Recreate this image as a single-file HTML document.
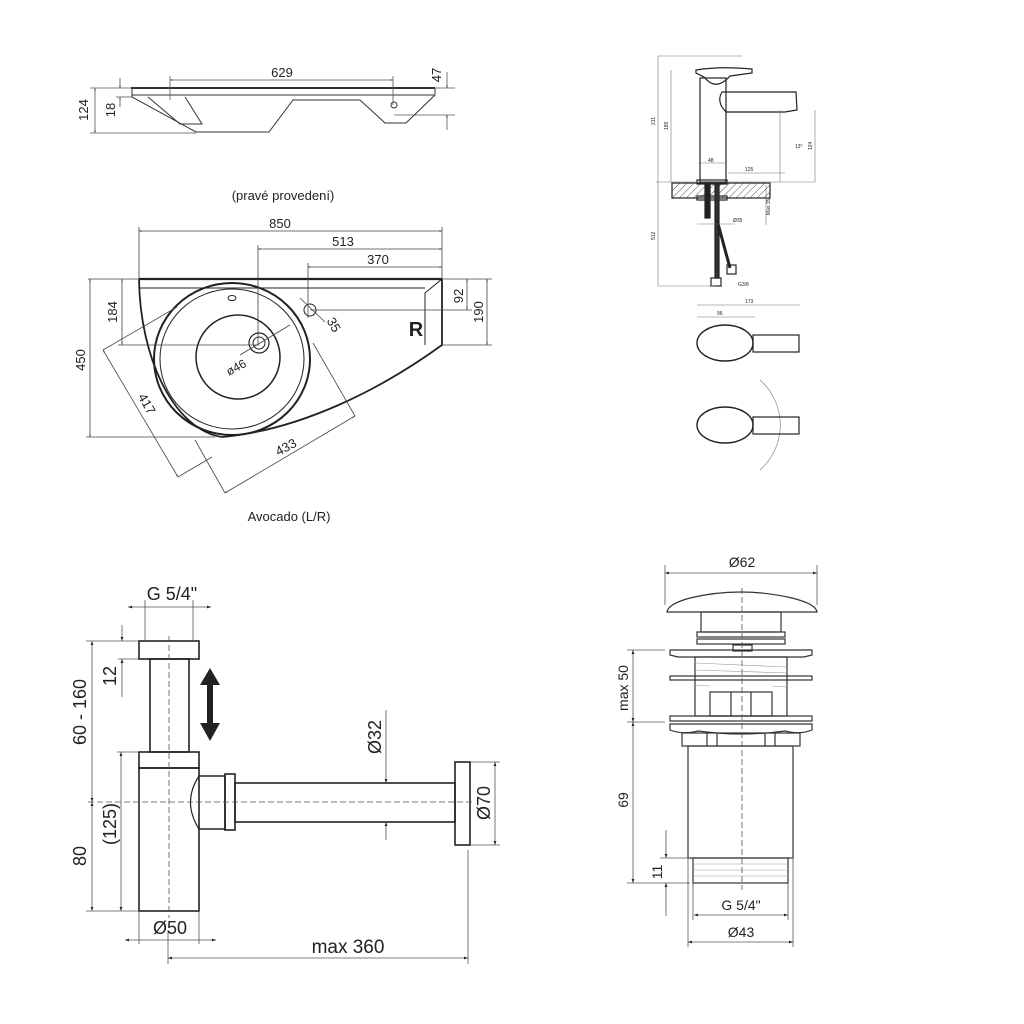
<!DOCTYPE html>
<html><head><meta charset="utf-8"><style>
html,body{margin:0;padding:0;background:#fff;}
svg{display:block;}
text{font-family:"Liberation Sans",sans-serif;fill:#222;}
</style></head><body>
<svg width="1024" height="1024" viewBox="0 0 1024 1024" xmlns="http://www.w3.org/2000/svg">
<defs>
<marker id="a" viewBox="0 0 10 10" refX="10" refY="5" markerWidth="7" markerHeight="5" orient="auto-start-reverse"><path d="M0,1.5 L10,5 L0,8.5z" fill="#222"/></marker>
<marker id="s" viewBox="0 0 10 10" refX="10" refY="5" markerWidth="4" markerHeight="3" orient="auto-start-reverse"><path d="M0,1.5 L10,5 L0,8.5z" fill="#444"/></marker>
<pattern id="h" width="5" height="5" patternUnits="userSpaceOnUse" patternTransform="rotate(45)"><line x1="0" y1="0" x2="0" y2="5" stroke="#555" stroke-width="1"/></pattern>
</defs>

<!-- ===== Top side profile ===== -->
<g fill="none" stroke="#333" stroke-width="1">
<line x1="131" y1="88" x2="435" y2="88" stroke-width="2"/>
<line x1="132" y1="95" x2="434" y2="95"/>
<path d="M132,88 L132,97 L196,132 L269,132 L293,100 L360,100 L385,123 L406,123 L435,95 L435,88"/>
<path d="M148,97 L180,124 L202,124 L185,97"/>
<circle cx="394" cy="105" r="3"/>
<g stroke="#555" stroke-width="0.8">
<line x1="170" y1="80" x2="393" y2="80" marker-start="url(#s)" marker-end="url(#s)"/>
<line x1="170" y1="76" x2="170" y2="100"/><line x1="393" y1="76" x2="393" y2="105"/>
<line x1="95" y1="88" x2="95" y2="133" marker-start="url(#s)" marker-end="url(#s)"/>
<line x1="90" y1="88" x2="131" y2="88"/><line x1="90" y1="133" x2="196" y2="133"/>
<line x1="120" y1="78" x2="120" y2="88" marker-end="url(#s)"/>
<line x1="120" y1="107" x2="120" y2="97" marker-end="url(#s)"/>
<line x1="116" y1="97" x2="132" y2="97"/>
<line x1="447" y1="72" x2="447" y2="88" marker-end="url(#s)"/>
<line x1="447" y1="130" x2="447" y2="115" marker-end="url(#s)"/>
<line x1="435" y1="88" x2="455" y2="88"/><line x1="394" y1="115" x2="455" y2="115"/>
</g>
</g>
<text x="282" y="77" font-size="13" text-anchor="middle">629</text>
<text x="0" y="0" font-size="13" text-anchor="middle" transform="translate(88,110) rotate(-90)">124</text>
<text x="0" y="0" font-size="13" text-anchor="middle" transform="translate(115,110) rotate(-90)">18</text>
<text x="0" y="0" font-size="13" text-anchor="middle" transform="translate(441,75) rotate(-90)">47</text>
<text x="283" y="200" font-size="13" text-anchor="middle">(pravé provedení)</text>

<!-- ===== Main sink plan ===== -->
<g fill="none" stroke="#222" stroke-width="1.5">
<line x1="139" y1="279" x2="442" y2="279" stroke-width="2.2"/>
<line x1="139" y1="288" x2="425" y2="288" stroke-width="1"/>
<path d="M442,279 L425,293 L425,345" stroke-width="1"/>
<path d="M442,279 L442,345 C380,390 300,430 222,437 C175,430 140,360 139,279" stroke-width="1.8"/>
<ellipse cx="232" cy="359" rx="78" ry="76" stroke-width="2"/>
<ellipse cx="232" cy="359" rx="72" ry="70" stroke-width="1"/>
<circle cx="238" cy="357" r="42" stroke-width="1.5"/>
<circle cx="259" cy="343" r="10" stroke-width="1.2"/>
<circle cx="259" cy="343" r="6" stroke-width="1"/>
<circle cx="310" cy="310" r="6" stroke-width="1"/>
<ellipse cx="232" cy="298" rx="4" ry="2.5" stroke-width="1"/>
</g>
<g fill="none" stroke="#444" stroke-width="0.8">
<line x1="139" y1="231" x2="442" y2="231" marker-start="url(#s)" marker-end="url(#s)"/>
<line x1="258" y1="249" x2="442" y2="249" marker-start="url(#s)" marker-end="url(#s)"/>
<line x1="308" y1="267" x2="442" y2="267" marker-start="url(#s)" marker-end="url(#s)"/>
<line x1="139" y1="227" x2="139" y2="279"/><line x1="258" y1="245" x2="258" y2="345"/>
<line x1="308" y1="263" x2="308" y2="318"/><line x1="442" y1="227" x2="442" y2="279"/>
<line x1="467" y1="279" x2="467" y2="310" marker-start="url(#s)" marker-end="url(#s)"/>
<line x1="487" y1="279" x2="487" y2="345" marker-start="url(#s)" marker-end="url(#s)"/>
<line x1="442" y1="279" x2="492" y2="279"/><line x1="310" y1="310" x2="472" y2="310"/><line x1="442" y1="345" x2="492" y2="345"/>
<line x1="122" y1="279" x2="122" y2="345" marker-start="url(#s)" marker-end="url(#s)"/>
<line x1="118" y1="345" x2="259" y2="345"/><line x1="88" y1="279" x2="139" y2="279"/>
<line x1="90" y1="279" x2="90" y2="437" marker-start="url(#s)" marker-end="url(#s)"/>
<line x1="86" y1="437" x2="215" y2="437"/>
<line x1="103" y1="350" x2="178" y2="477" marker-start="url(#s)" marker-end="url(#s)"/>
<line x1="225" y1="493" x2="355" y2="416" marker-start="url(#s)" marker-end="url(#s)"/>
<line x1="103" y1="350" x2="177" y2="307"/><line x1="178" y1="477" x2="212" y2="457"/>
<line x1="225" y1="493" x2="195" y2="440"/>
<line x1="355" y1="416" x2="313" y2="343"/>
<line x1="300" y1="298" x2="325" y2="322"/>
<line x1="240" y1="355" x2="290" y2="325"/>
</g>
<text x="280" y="228" font-size="13" text-anchor="middle">850</text>
<text x="343" y="246" font-size="13" text-anchor="middle">513</text>
<text x="378" y="264" font-size="13" text-anchor="middle">370</text>
<text x="416" y="336" font-size="20" font-weight="bold" text-anchor="middle" style="fill:#222">R</text>
<text font-size="13" text-anchor="middle" transform="translate(463,296) rotate(-90)">92</text>
<text font-size="13" text-anchor="middle" transform="translate(483,312) rotate(-90)">190</text>
<text font-size="13" text-anchor="middle" transform="translate(117,312) rotate(-90)">184</text>
<text font-size="13" text-anchor="middle" transform="translate(85,360) rotate(-90)">450</text>
<text font-size="13" text-anchor="middle" transform="translate(330,327) rotate(60)">35</text>
<text font-size="12" text-anchor="middle" transform="translate(238,371) rotate(-28)">ø46</text>
<text font-size="13" text-anchor="middle" transform="translate(143,406) rotate(60)">417</text>
<text font-size="13" text-anchor="middle" transform="translate(288,451) rotate(-28)">433</text>
<text x="289" y="521" font-size="13" text-anchor="middle">Avocado (L/R)</text>

<!-- ===== Faucet ===== -->
<g fill="none" stroke="#222" stroke-width="1.2">
<path d="M696,70 Q720,66 752,69 L752,73 L730,76 Q716,92 704,77 L696,73z"/>
<rect x="700" y="78" width="26" height="104"/>
<path d="M722,92 L796,92 L797,110 L785,112 L726,112 Q716,102 722,92z"/>
<rect x="672" y="183" width="98" height="15" fill="url(#h)"/>
<rect x="697" y="180" width="30" height="4"/>
<rect x="697" y="196" width="30" height="4"/>
<rect x="705" y="183" width="5" height="35" fill="#222"/>
<rect x="715" y="183" width="4" height="95" fill="#333"/>
<path d="M717,220 L730,268" stroke-width="3"/>
<rect x="711" y="278" width="10" height="8"/><rect x="727" y="265" width="9" height="9"/>
<g stroke="#777" stroke-width="0.6">
<line x1="658" y1="56" x2="742" y2="56"/><line x1="658" y1="56" x2="658" y2="286"/>
<line x1="671" y1="70" x2="671" y2="182"/><line x1="780" y1="110" x2="780" y2="182"/>
<line x1="815" y1="110" x2="815" y2="182"/><line x1="656" y1="182" x2="815" y2="182"/>
<line x1="658" y1="286" x2="716" y2="286"/><line x1="697" y1="224" x2="735" y2="224"/>
<line x1="766" y1="185" x2="766" y2="225"/><line x1="698" y1="163" x2="726" y2="163"/>
<line x1="728" y1="173" x2="785" y2="173"/>
<line x1="697" y1="305" x2="800" y2="305"/><line x1="697" y1="317" x2="755" y2="317"/>
<path d="M760,380 A60,60 0 0 1 760,470"/>
</g>
<ellipse cx="725" cy="343" rx="28" ry="18" stroke-width="1.4"/>
<rect x="753" y="335" width="46" height="17"/>
<ellipse cx="725" cy="425" rx="28" ry="18" stroke-width="1.4"/>
<rect x="753" y="417" width="46" height="17"/>
</g>
<g font-size="5" style="fill:#444">
<text transform="translate(655,125) rotate(-90)">211</text>
<text transform="translate(668,130) rotate(-90)">189</text>
<text transform="translate(655,240) rotate(-90)">512</text>
<text x="708" y="162">48</text><text x="745" y="171">125</text>
<text x="795" y="148">13°</text><text transform="translate(812,150) rotate(-90)">124</text>
<text x="733" y="222">Ø35</text><text transform="translate(770,215) rotate(-90)">Max 35</text>
<text x="738" y="286">G3/8</text><text x="745" y="303">173</text><text x="717" y="315">96</text>
</g>

<!-- ===== Siphon ===== -->
<g fill="none" stroke="#222" stroke-width="1.6">
<rect x="139" y="641" width="60" height="18"/>
<rect x="150" y="659" width="39" height="93"/>
<rect x="139" y="752" width="60" height="16"/>
<rect x="139" y="768" width="60" height="143"/>
<path d="M199,776 L225,776 L225,829 L199,829"/>
<path d="M199,776 Q182,802 199,829" stroke-width="1.2"/>
<rect x="225" y="774" width="10" height="56"/>
<rect x="235" y="783" width="220" height="39"/>
<rect x="455" y="762" width="15" height="83"/>
</g>
<g stroke="#555" stroke-width="0.8" fill="none">
<line x1="169" y1="636" x2="169" y2="918" stroke-dasharray="6,3"/>
<line x1="88" y1="802" x2="475" y2="802" stroke-dasharray="6,3"/>
<line x1="128" y1="607" x2="211" y2="607" marker-start="url(#a)" marker-end="url(#a)"/>
<line x1="145" y1="600" x2="145" y2="641"/><line x1="193" y1="600" x2="193" y2="641"/>
<line x1="92" y1="641" x2="92" y2="802" marker-start="url(#a)" marker-end="url(#a)"/>
<line x1="92" y1="802" x2="92" y2="911" marker-start="url(#a)" marker-end="url(#a)"/>
<line x1="86" y1="641" x2="139" y2="641"/><line x1="86" y1="911" x2="139" y2="911"/>
<line x1="122" y1="625" x2="122" y2="641" marker-end="url(#a)"/>
<line x1="122" y1="697" x2="122" y2="659" marker-end="url(#a)"/>
<line x1="118" y1="659" x2="139" y2="659"/>
<line x1="121" y1="752" x2="121" y2="911" marker-start="url(#a)" marker-end="url(#a)"/>
<line x1="117" y1="752" x2="139" y2="752"/>
<line x1="125" y1="940" x2="216" y2="940" marker-start="url(#a)" marker-end="url(#a)"/>
<line x1="139" y1="911" x2="139" y2="944"/><line x1="199" y1="911" x2="199" y2="944"/>
<line x1="168" y1="958" x2="468" y2="958" marker-start="url(#a)" marker-end="url(#a)"/>
<line x1="168" y1="930" x2="168" y2="964"/><line x1="468" y1="850" x2="468" y2="964"/>
<line x1="386" y1="710" x2="386" y2="783" marker-end="url(#a)"/>
<line x1="386" y1="840" x2="386" y2="822" marker-end="url(#a)"/>
<line x1="495" y1="762" x2="495" y2="845" marker-start="url(#a)" marker-end="url(#a)"/>
<line x1="470" y1="762" x2="500" y2="762"/><line x1="470" y1="845" x2="500" y2="845"/>
</g>
<path d="M210,668 L220,685 L213,685 L213,723 L220,723 L210,741 L200,723 L207,723 L207,685 L200,685z" fill="#222"/>
<text x="172" y="600" font-size="18" text-anchor="middle">G 5/4"</text>
<text font-size="18" text-anchor="middle" transform="translate(86,712) rotate(-90)">60 - 160</text>
<text font-size="18" text-anchor="middle" transform="translate(116,676) rotate(-90)">12</text>
<text font-size="18" text-anchor="middle" transform="translate(116,824) rotate(-90)">(125)</text>
<text font-size="18" text-anchor="middle" transform="translate(86,856) rotate(-90)">80</text>
<text x="170" y="934" font-size="18" text-anchor="middle">Ø50</text>
<text x="348" y="953" font-size="19" text-anchor="middle">max 360</text>
<text font-size="18" text-anchor="middle" transform="translate(381,737) rotate(-90)">Ø32</text>
<text font-size="18" text-anchor="middle" transform="translate(490,803) rotate(-90)">Ø70</text>

<!-- ===== Drain ===== -->
<g fill="none" stroke="#333" stroke-width="1.2">
<path d="M667,612 Q668,604 690,598 Q740,586 792,598 Q816,604 817,612z"/>
<rect x="701" y="612" width="80" height="20"/>
<rect x="697" y="632" width="88" height="5"/><rect x="697" y="639" width="88" height="5"/>
<rect x="733" y="645" width="19" height="6"/>
<path d="M670,650 L812,650 L812,655 L804,657 L678,657 L670,655z"/>
<rect x="695" y="657" width="92" height="59"/>
<rect x="670" y="676" width="142" height="4"/>
<rect x="710" y="692" width="62" height="24"/>
<line x1="731" y1="692" x2="731" y2="716"/><line x1="751" y1="692" x2="751" y2="716"/>
<rect x="670" y="716" width="142" height="5"/>
<path d="M670,724 L812,724 L812,730 Q800,735 785,731 Q742,737 698,731 Q683,735 670,730z"/>
<rect x="682" y="733" width="118" height="13"/>
<line x1="707" y1="733" x2="707" y2="746"/><line x1="717" y1="733" x2="717" y2="746"/>
<line x1="765" y1="733" x2="765" y2="746"/><line x1="775" y1="733" x2="775" y2="746"/>
<rect x="688" y="746" width="105" height="112"/>
<rect x="693" y="858" width="95" height="25"/>
<g stroke="#999" stroke-width="0.6">
<line x1="695" y1="663" x2="787" y2="667"/><line x1="695" y1="670" x2="787" y2="673"/>
<line x1="695" y1="685" x2="710" y2="686"/><line x1="772" y1="686" x2="787" y2="687"/>
<line x1="693" y1="864" x2="788" y2="864"/><line x1="693" y1="870" x2="788" y2="870"/><line x1="693" y1="876" x2="788" y2="876"/>
</g>
</g>
<g stroke="#555" stroke-width="0.8" fill="none">
<line x1="742" y1="588" x2="742" y2="890" stroke-dasharray="6,3"/>
<line x1="665" y1="573" x2="817" y2="573" marker-start="url(#a)" marker-end="url(#a)"/>
<line x1="665" y1="565" x2="665" y2="605"/><line x1="817" y1="565" x2="817" y2="605"/>
<line x1="633" y1="650" x2="633" y2="722" marker-start="url(#a)" marker-end="url(#a)"/>
<line x1="633" y1="722" x2="633" y2="883" marker-start="url(#a)" marker-end="url(#a)"/>
<line x1="627" y1="650" x2="665" y2="650"/><line x1="627" y1="722" x2="665" y2="722"/>
<line x1="627" y1="883" x2="690" y2="883"/>
<line x1="666" y1="830" x2="666" y2="858" marker-end="url(#a)"/>
<line x1="666" y1="916" x2="666" y2="883" marker-end="url(#a)"/>
<line x1="660" y1="858" x2="690" y2="858"/>
<line x1="694" y1="915" x2="788" y2="915" marker-start="url(#a)" marker-end="url(#a)"/>
<line x1="688" y1="942" x2="793" y2="942" marker-start="url(#a)" marker-end="url(#a)"/>
<line x1="693" y1="883" x2="693" y2="920"/><line x1="788" y1="883" x2="788" y2="920"/>
<line x1="688" y1="858" x2="688" y2="947"/><line x1="793" y1="858" x2="793" y2="947"/>
</g>
<text x="742" y="567" font-size="14" text-anchor="middle">Ø62</text>
<text font-size="14" text-anchor="middle" transform="translate(628,688) rotate(-90)">max 50</text>
<text font-size="14" text-anchor="middle" transform="translate(628,800) rotate(-90)">69</text>
<text font-size="14" text-anchor="middle" transform="translate(662,872) rotate(-90)">11</text>
<text x="741" y="910" font-size="14" text-anchor="middle">G 5/4"</text>
<text x="741" y="937" font-size="14" text-anchor="middle">Ø43</text>
</svg>
</body></html>
